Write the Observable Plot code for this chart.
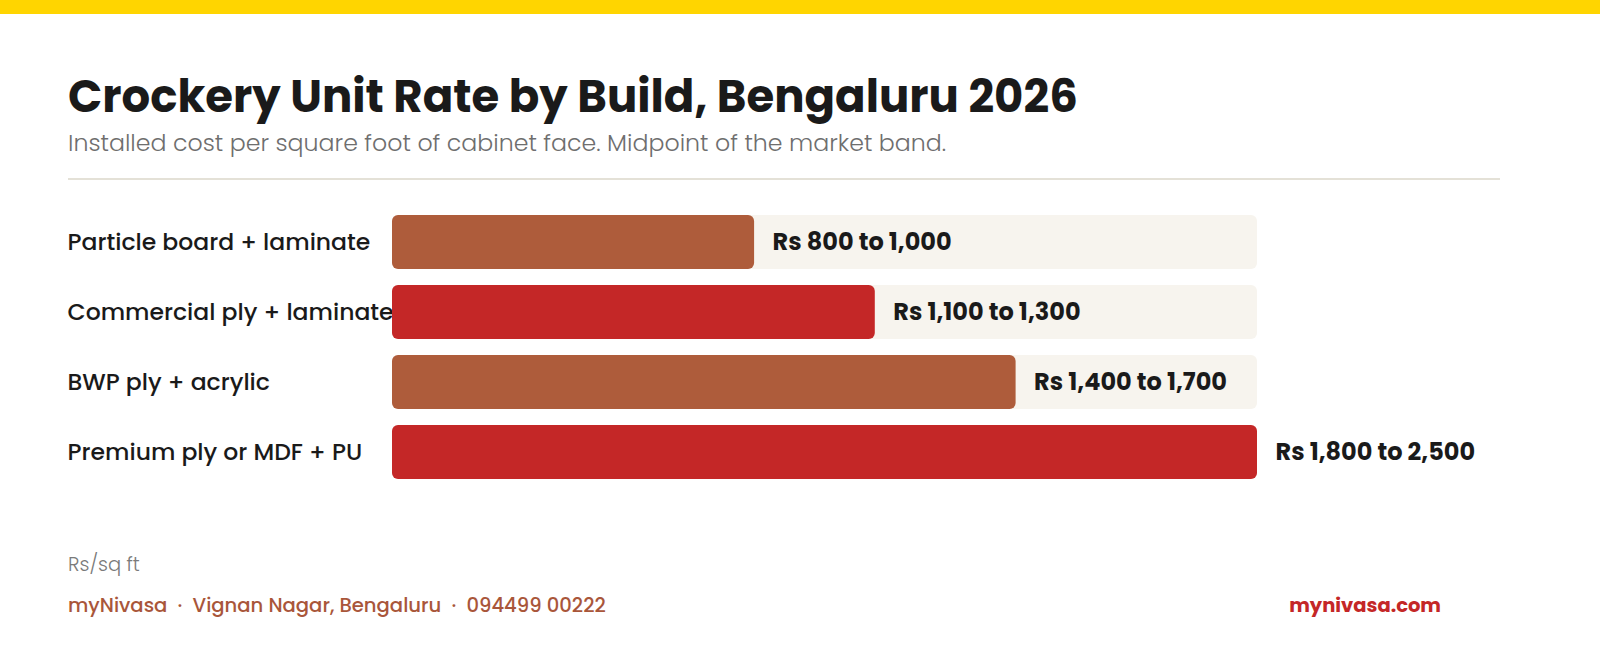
<!DOCTYPE html>
<html>
<head>
<meta charset="utf-8">
<script src="https://cdn.jsdelivr.net/npm/d3@7"></script>
<script src="https://cdn.jsdelivr.net/npm/@observablehq/plot@0.6"></script>
<style>
  html, body { margin: 0; padding: 0; background: #ffffff; }
  body { width: 1600px; height: 662px; overflow: hidden; font-family: Poppins, Inter, "Open Sans", sans-serif; position: relative; }
  .topbar { position: absolute; left: 0; top: 0; width: 1600px; height: 14px; background: #FFD500; }
  h1 { position: absolute; left: 68px; top: 74px; margin: 0; font-size: 45px; font-weight: 700; color: #1a1a1a; line-height: 1; white-space: nowrap; }
  .sub { position: absolute; left: 68px; top: 131px; margin: 0; font-size: 23.7px; font-weight: 300; color: #6e6e6e; line-height: 1; white-space: nowrap; }
  .rule { position: absolute; left: 68px; top: 178px; width: 1432px; height: 2px; background: #E4E1D7; }
  #chart { position: absolute; left: 0; top: 195px; }
  .unit { position: absolute; left: 68px; top: 555px; font-size: 19.5px; color: #7a7a7a; font-weight: 300; line-height: 1; }
  .foot { position: absolute; left: 68px; top: 596px; font-size: 19.6px; color: #A9563A; font-weight: 500; line-height: 1; white-space: pre; }
  .site { position: absolute; right: 159px; top: 596px; font-size: 19.5px; color: #C42727; font-weight: 700; line-height: 1; }
</style>
</head>
<body>
<div class="topbar"></div>
<h1>Crockery Unit Rate by Build, Bengaluru 2026</h1>
<p class="sub">Installed cost per square foot of cabinet face. Midpoint of the market band.</p>
<div class="rule"></div>
<div id="chart"></div>
<div class="unit">Rs/sq ft</div>
<div class="foot">myNivasa  ·  Vignan Nagar, Bengaluru  ·  094499 00222</div>
<div class="site">mynivasa.com</div>
<script>
const categories = ["Particle board + laminate", "Commercial ply + laminate", "BWP ply + acrylic", "Premium ply or MDF + PU"];
const lowRates = [800, 1100, 1400, 1800];
const highRates = [1000, 1300, 1700, 2500];
const rangeLabels = ["Rs 800 to 1,000", "Rs 1,100 to 1,300", "Rs 1,400 to 1,700", "Rs 1,800 to 2,500"];

const rows = categories.map((c, i) => ({
  category: c,
  mid: (lowRates[i] + highRates[i]) / 2,
  label: rangeLabels[i],
  idx: i
}));
const maxMid = d3.max(rows, d => d.mid);

const chart = Plot.plot({
  width: 1600,
  height: 300,
  marginLeft: 392,
  marginRight: 343,
  marginTop: 19,
  marginBottom: 14,
  style: { fontFamily: "Poppins, Inter, 'Open Sans', sans-serif", background: "transparent" },
  x: { domain: [0, maxMid], axis: null },
  y: { domain: categories, paddingInner: 0.222, paddingOuter: 0, axis: null },
  marks: [
    Plot.axisY({ tickSize: 0, textAnchor: "start", dx: -316, fontSize: 23.5, fontWeight: 500, fill: "#1a1a1a", label: null }),
    Plot.barX(rows, { y: "category", x1: 0, x2: maxMid, fill: "#F7F4EE", rx: 6 }),
    Plot.barX(rows, { y: "category", x1: 0, x2: "mid", fill: d => d.idx % 2 ? "#C42727" : "#AE5C3B", rx: 6 }),
    Plot.text(rows, { y: "category", x: "mid", text: "label", textAnchor: "start", dx: 18, fontSize: 24, fontWeight: 700, fill: "#1a1a1a" })
  ]
});
document.getElementById("chart").appendChild(chart);
</script>
</body>
</html>
